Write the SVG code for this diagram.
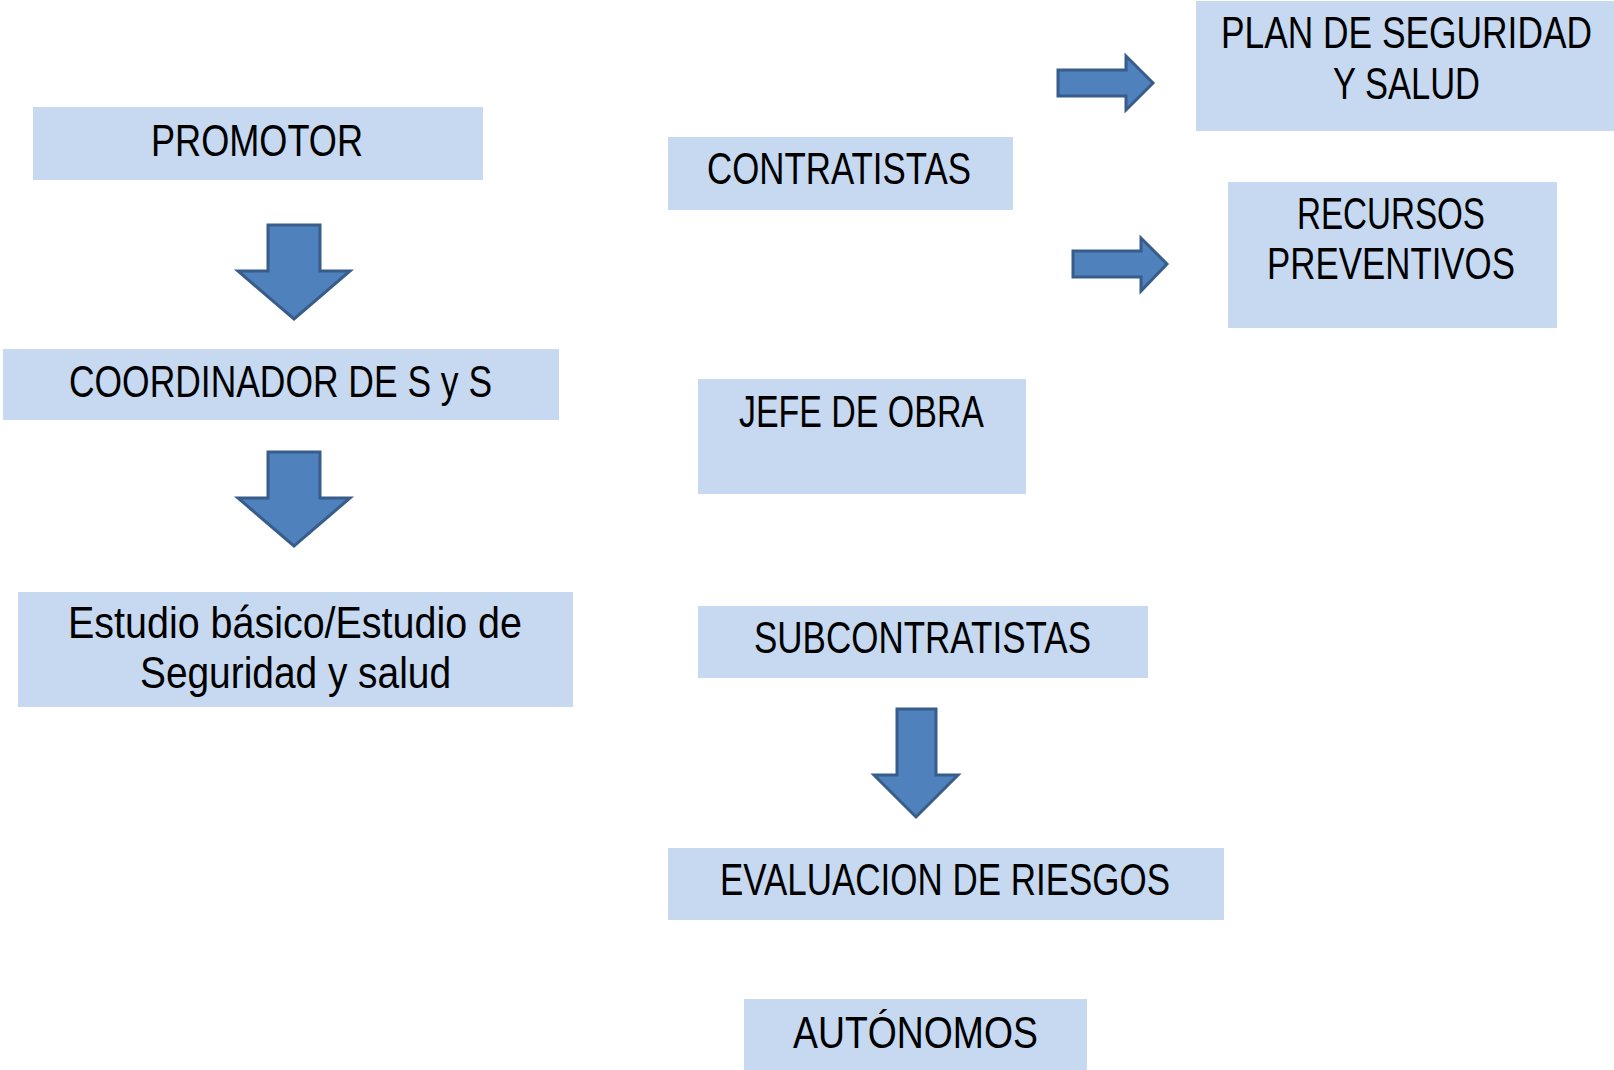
<svg xmlns="http://www.w3.org/2000/svg" width="1614" height="1070" viewBox="0 0 1614 1070">
<style>
.box{fill:#C6D9F1}
.t{font-family:"Liberation Sans Narrow","Liberation Sans",Arial,sans-serif;font-size:45px;fill:#000}
.arr{fill:#4F81BD;stroke:#385D8A;stroke-width:3;stroke-linejoin:miter}
</style>
<rect width="1614" height="1070" fill="#fff"/>
<g id="promotor"><rect class="box" x="33" y="107" width="450" height="73"/><text class="t" x="151" y="156" textLength="212" lengthAdjust="spacingAndGlyphs">PROMOTOR</text></g>
<g id="coordinador"><rect class="box" x="3" y="349" width="556" height="71"/><text class="t" x="69" y="397" textLength="423" lengthAdjust="spacingAndGlyphs">COORDINADOR DE S y S</text></g>
<g id="estudio"><rect class="box" x="18" y="592" width="555" height="115"/><text class="t" x="68" y="638" textLength="454" lengthAdjust="spacingAndGlyphs">Estudio básico/Estudio de</text><text class="t" x="140" y="688" textLength="311" lengthAdjust="spacingAndGlyphs">Seguridad y salud</text></g>
<g id="contratistas"><rect class="box" x="668" y="137" width="345" height="73"/><text class="t" x="707" y="184" textLength="264" lengthAdjust="spacingAndGlyphs">CONTRATISTAS</text></g>
<g id="plan"><rect class="box" x="1196" y="1" width="418" height="130"/><text class="t" x="1221" y="48" textLength="371" lengthAdjust="spacingAndGlyphs">PLAN DE SEGURIDAD</text><text class="t" x="1333" y="99" textLength="147" lengthAdjust="spacingAndGlyphs">Y SALUD</text></g>
<g id="recursos"><rect class="box" x="1228" y="182" width="329" height="146"/><text class="t" x="1297" y="229" textLength="188" lengthAdjust="spacingAndGlyphs">RECURSOS</text><text class="t" x="1267" y="279" textLength="248" lengthAdjust="spacingAndGlyphs">PREVENTIVOS</text></g>
<g id="jefe"><rect class="box" x="698" y="379" width="328" height="115"/><text class="t" x="739" y="427" textLength="245" lengthAdjust="spacingAndGlyphs">JEFE DE OBRA</text></g>
<g id="subcontratistas"><rect class="box" x="698" y="606" width="450" height="72"/><text class="t" x="754" y="653" textLength="337" lengthAdjust="spacingAndGlyphs">SUBCONTRATISTAS</text></g>
<g id="evaluacion"><rect class="box" x="668" y="848" width="556" height="72"/><text class="t" x="720" y="895" textLength="450" lengthAdjust="spacingAndGlyphs">EVALUACION DE RIESGOS</text></g>
<g id="autonomos"><rect class="box" x="744" y="999" width="343" height="71"/><text class="t" x="793" y="1048" textLength="245" lengthAdjust="spacingAndGlyphs">AUTÓNOMOS</text></g>
<g id="connectors">
<path class="arr" d="M268,225 H320 V271 H350 L294,319 L238,271 H268 Z"/>
<path class="arr" d="M268,452 H320 V498 H350 L294,546 L238,498 H268 Z"/>
<path class="arr" d="M897,709 H936 V775 H958 L916,817 L874,775 H897 Z"/>
<path class="arr" d="M1058,70 H1126 V56 L1153,83 L1126,110 V96 H1058 Z"/>
<path class="arr" d="M1073,251 H1141 V238 L1167,264 L1141,291 V277 H1073 Z"/>
</g>
</svg>
